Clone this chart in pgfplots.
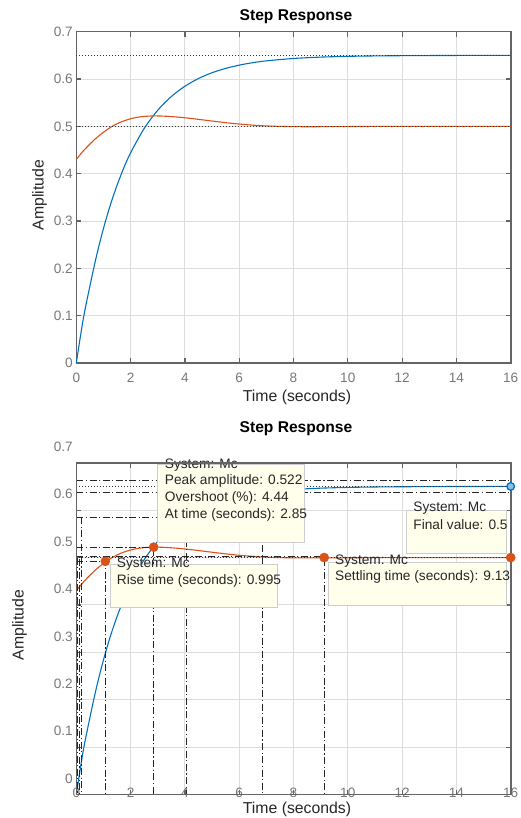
\documentclass[border=0pt]{standalone}
\usepackage{pgfplots}
\pgfplotsset{compat=1.18}
\usepackage{fontspec}
\setmainfont{Liberation Sans}

\definecolor{mblue}{RGB}{0,114,189}
\definecolor{morange}{RGB}{217,83,25}
\definecolor{axgray}{RGB}{100,100,100}
\definecolor{lblgray}{RGB}{120,120,120}
\definecolor{gridgray}{RGB}{222,222,222}
\definecolor{tipfill}{RGB}{255,255,236}
\definecolor{tipedge}{RGB}{205,205,205}
\definecolor{txt}{RGB}{38,38,38}

\newcommand\tipfont{\fontsize{13.7}{16}\selectfont}

\pgfplotsset{
  mstyle/.style={
    scale only axis, anchor=south west, width=434.4pt,
    xmin=0, xmax=16, ymin=0, ymax=0.7,
    xtick={0,2,4,6,8,10,12,14,16},
    ytick={0,0.1,0.2,0.3,0.4,0.5,0.6,0.7},
    grid=major, grid style={gridgray, line width=1pt},
    axis line style={axgray, line width=1.6pt},
    tick align=inside, major tick length=5pt,
    tick style={axgray, line width=1.2pt},
    ticklabel style={font=\fontsize{13.6}{14}\selectfont, text=lblgray},
    /pgf/number format/assume math mode=true,
    yticklabel style={anchor=east},
    clip=false,
  },
  dotline/.style={black!80, line width=0.9pt, dash pattern=on 1pt off 2pt, forget plot},
  dashdot/.style={black!85, line width=0.9pt, dash pattern=on 7pt off 2.5pt on 1.2pt off 2.5pt, forget plot},
  bluecurve/.style={mblue, line width=1.1pt, smooth},
  orangecurve/.style={morange, line width=1.1pt, smooth},
}

\begin{document}
\begin{tikzpicture}
\path[use as bounding box] (0pt,0pt) rectangle (520pt,818pt);

% upper plot
\begin{axis}[mstyle, at={(76.3pt,455pt)}, height=331.3pt,
  xticklabel style={anchor=center, yshift=-15pt}]
\addplot[bluecurve] coordinates {
 (0,0) (0.25,0.091) (0.5,0.1624) (0.75,0.2276) (1,0.2841) (1.25,0.3331)
 (1.5,0.3755) (1.75,0.4122) (2,0.4441) (2.5,0.4955) (3,0.5341) (3.5,0.5630)
 (4,0.5847) (4.5,0.6011) (5,0.6133) (5.5,0.6224) (6,0.6293) (6.5,0.6345)
 (7,0.6384) (8,0.6434) (9,0.6463) (10,0.6479) (11,0.6488) (12,0.6493)
 (14,0.6498) (16,0.6500)};
\addplot[orangecurve] coordinates {
 (0,0.430) (0.25,0.4475) (0.5,0.4625) (0.75,0.4760) (1,0.4875) (1.25,0.4975)
 (1.5,0.5055) (1.75,0.5115) (2,0.5160) (2.25,0.5192) (2.5,0.5210) (2.85,0.5220)
 (3.25,0.5215) (3.75,0.5195) (4.25,0.5165) (4.75,0.5130) (5.25,0.5095)
 (5.75,0.5062) (6.25,0.5036) (6.75,0.5016) (7.25,0.5003) (7.75,0.4996)
 (8.5,0.4992) (9.5,0.4994) (10.5,0.4997) (12,0.5) (16,0.5)};
\addplot[dotline] coordinates {(0,0.65) (16,0.65)};
\addplot[dotline] coordinates {(0,0.5) (16,0.5)};
\end{axis}

% lower plot
\begin{axis}[mstyle, at={(76.3pt,23.3pt)}, height=332pt,
  xticklabel style={anchor=center, yshift=2pt},
  yticklabel style={yshift=16pt}]
\addplot[bluecurve] coordinates {
 (0,0) (0.25,0.091) (0.5,0.1624) (0.75,0.2276) (1,0.2841) (1.25,0.3331)
 (1.5,0.3755) (1.75,0.4122) (2,0.4441) (2.5,0.4955) (3,0.5341) (3.5,0.5630)
 (4,0.5847) (4.5,0.6011) (5,0.6133) (5.5,0.6224) (6,0.6293) (6.5,0.6345)
 (7,0.6384) (8,0.6434) (9,0.6463) (10,0.6479) (11,0.6488) (12,0.6493)
 (14,0.6498) (16,0.6500)};
\addplot[orangecurve] coordinates {
 (0,0.430) (0.25,0.4475) (0.5,0.4625) (0.75,0.4760) (1,0.4875) (1.25,0.4975)
 (1.5,0.5055) (1.75,0.5115) (2,0.5160) (2.25,0.5192) (2.5,0.5210) (2.85,0.5220)
 (3.25,0.5215) (3.75,0.5195) (4.25,0.5165) (4.75,0.5130) (5.25,0.5095)
 (5.75,0.5062) (6.25,0.5036) (6.75,0.5016) (7.25,0.5003) (7.75,0.4996)
 (8.5,0.4992) (9.5,0.4994) (10.5,0.4997) (12,0.5) (16,0.5)};
% characteristic lines
\addplot[dashdot] coordinates {(0,0.6635) (16,0.6635)};
\addplot[dotline] coordinates {(0,0.650) (16,0.650)};
\addplot[dashdot] coordinates {(0,0.6376) (16,0.6376)};
\addplot[dashdot] coordinates {(6.87,0.6376) (6.87,0)};
\addplot[dashdot] coordinates {(0,0.585) (4.04,0.585) (4.04,0)};
\addplot[dashdot] coordinates {(0.19,0.585) (0.19,0)};
\addplot[dashdot] coordinates {(0,0.522) (2.85,0.522) (2.85,0)};
\addplot[dashdot] coordinates {(0,0.503) (9.13,0.503) (9.13,0)};
\addplot[dotline] coordinates {(0,0.5) (16,0.5)};
\addplot[dashdot] coordinates {(0.11,0.497) (0.11,0)};
\addplot[dashdot] coordinates {(0.03,0.5) (0.03,0)};
\addplot[dashdot] coordinates {(0,0.492) (1.07,0.492) (1.07,0)};
% data tips
\draw[tipedge, fill=tipfill, line width=0.8pt] (axis cs:2.98,0.5322) rectangle (axis cs:8.39,0.6966);
\draw[tipedge, fill=tipfill, line width=0.8pt] (axis cs:1.24,0.3951) rectangle (axis cs:7.40,0.4864);
\draw[tipedge, fill=tipfill, line width=0.8pt] (axis cs:9.28,0.4000) rectangle (axis cs:15.85,0.4891);
\draw[tipedge, fill=tipfill, line width=0.8pt] (axis cs:12.17,0.5090) rectangle (axis cs:15.85,0.6003);
\begin{scope}[every node/.style={anchor=base west, inner sep=0pt, font=\tipfont, text=txt}]
\node at (axis cs:3.256,0.6888) {System: Mc};
\node at (axis cs:3.256,0.6540) {Peak amplitude: 0.522};
\node at (axis cs:3.256,0.6186) {Overshoot (\%): 4.44};
\node at (axis cs:3.256,0.5828) {At time (seconds): 2.85};
\node at (axis cs:1.488,0.4795) {System: Mc};
\node at (axis cs:1.488,0.4442) {Rise time (seconds): 0.995};
\node at (axis cs:9.528,0.4864) {System: Mc};
\node at (axis cs:9.528,0.4512) {Settling time (seconds): 9.13};
\node at (axis cs:12.41,0.5967) {System: Mc};
\node at (axis cs:12.41,0.5602) {Final value: 0.5};
\end{scope}
\draw[axgray, line width=1.6pt] (rel axis cs:0,0) rectangle (rel axis cs:1,1);
\addplot[only marks, mark=*, mark size=4.6pt, color=morange, forget plot]
  coordinates {(1.07,0.492) (2.85,0.522) (9.13,0.5) (16,0.5)};
\addplot[only marks, mark=*, mark size=3.8pt, draw=mblue, fill=white!55!mblue,
  line width=1.3pt, forget plot] coordinates {(16,0.65)};
\end{axis}

% titles and labels
\node[font=\fontsize{15.6}{18}\selectfont\bfseries, anchor=base] at (296pt,797.3pt) {Step Response};
\node[font=\fontsize{15.6}{18}\selectfont\bfseries, anchor=base] at (296pt,385.3pt) {Step Response};
\node[font=\fontsize{15.8}{18}\selectfont, text=txt, anchor=base] at (297pt,416.3pt) {Time (seconds)};
\node[font=\fontsize{15.8}{18}\selectfont, text=txt, anchor=base] at (297pt,5pt) {Time (seconds)};
\node[font=\fontsize{15.8}{18}\selectfont, text=txt, rotate=90] at (39.5pt,623pt) {Amplitude};
\node[font=\fontsize{15.8}{18}\selectfont, text=txt, rotate=90] at (19.5pt,193pt) {Amplitude};
\end{tikzpicture}
\end{document}
